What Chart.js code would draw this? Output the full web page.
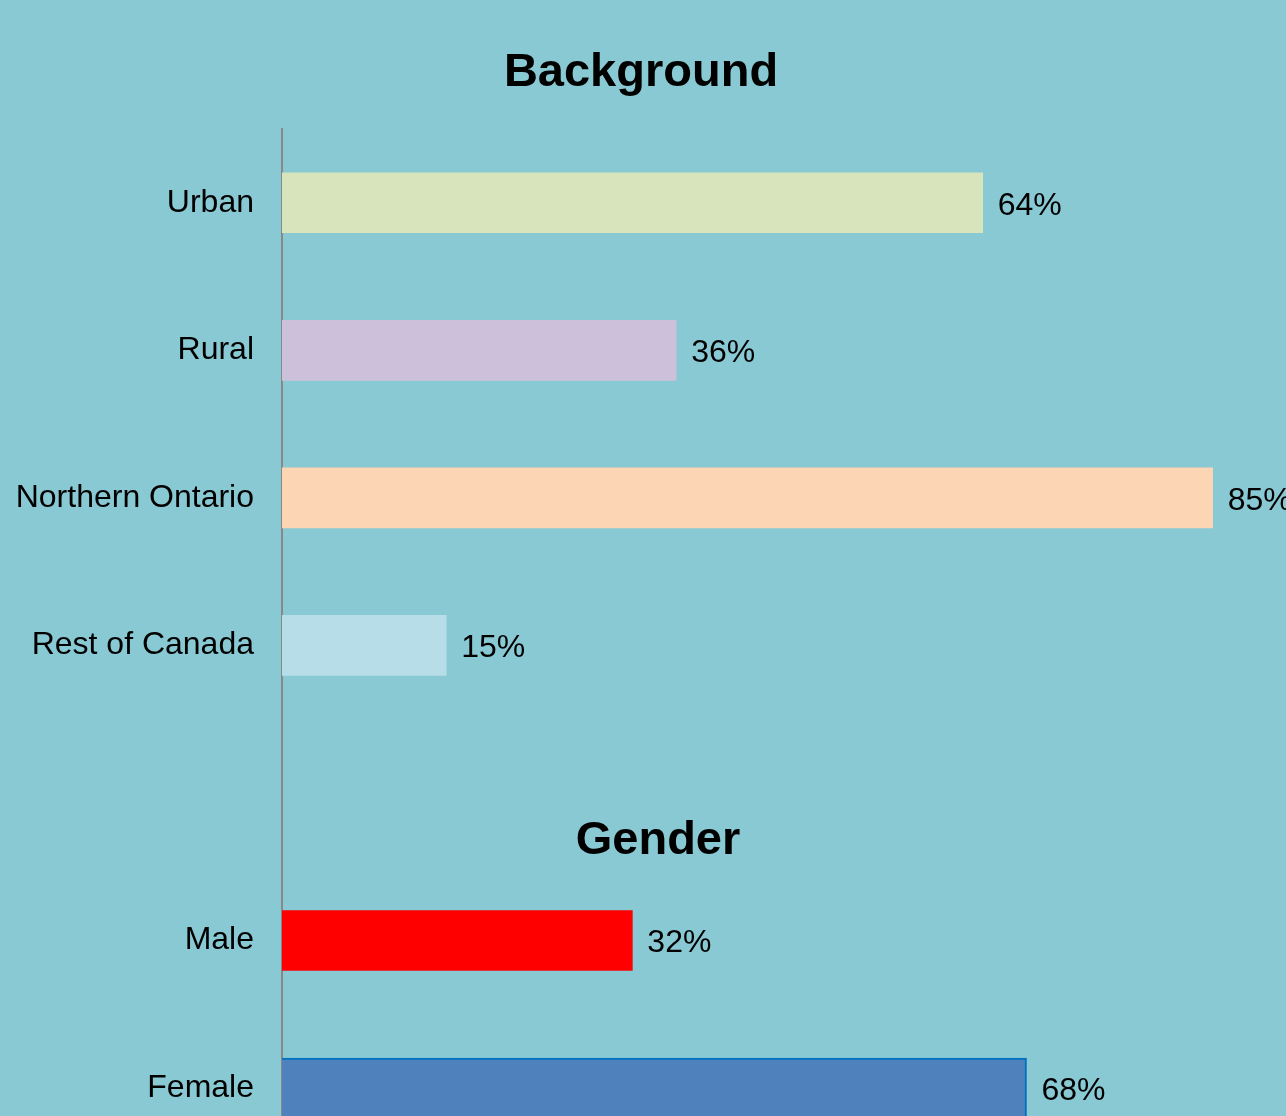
<!DOCTYPE html>
<html>
<head>
<meta charset="utf-8">
<script src="https://cdn.jsdelivr.net/npm/chart.js@4.4.1/dist/chart.umd.min.js"></script>
<style>
  html, body { margin: 0; padding: 0; background: #89C9D3; overflow: hidden; }
  #wrap { width: 1286px; height: 1209px; }
</style>
</head>
<body>
<div id="wrap"><canvas id="chart" width="1286" height="1209"></canvas></div>
<script>
// Data
const categories = ['Urban', 'Rural', 'Northern Ontario', 'Rest of Canada', '', 'Male', 'Female'];
const values = [64, 36, 85, 15, null, 32, 68];
const barColors = ['#D8E4BC', '#CCC0DA', '#FCD5B4', '#B7DEE8', 'rgba(0,0,0,0)', '#FF0000', '#4F81BD'];
const borderColors = ['#D8E4BC', '#CCC0DA', '#FCD5B4', '#B7DEE8', 'rgba(0,0,0,0)', '#FF0000', '#0070C0'];
const sectionTitles = ['Background', 'Gender'];

const FONT = '"Liberation Sans", Arial, sans-serif';

// Titles and value labels
const overlay = {
    id: 'overlay',
    afterDatasetsDraw(chart) {
        const c = chart.ctx;
        const y = chart.scales.y;
        const meta = chart.getDatasetMeta(0);
        c.save();
        c.fillStyle = '#000';
        c.textBaseline = 'middle';

        // value labels
        c.font = '32px ' + FONT;
        c.textAlign = 'left';
        meta.data.forEach((bar, i) => {
            if (values[i] == null) return;
            c.fillText(values[i] + '%', bar.x + 15, bar.y + 3);
        });

        // section titles
        c.font = 'bold 47px ' + FONT;
        c.textAlign = 'center';
        c.fillText(sectionTitles[0], 641, chart.chartArea.top - 56);
        c.fillText(sectionTitles[1], 658, y.getPixelForValue(4) + 48);
        c.restore();
    }
};

const ctx = document.getElementById('chart').getContext('2d');
const chart = new Chart(ctx, {
    type: 'bar',
    data: {
        labels: categories,
        datasets: [{
            data: values,
            backgroundColor: barColors,
            borderColor: borderColors,
            borderWidth: [0, 0, 0, 0, 0, 0, 2],
            borderSkipped: 'left',
            barThickness: 60
        }]
    },
    options: {
        indexAxis: 'y',
        responsive: false,
        devicePixelRatio: 1,
        animation: false,
        // canvas is taller than the window: the chart runs past the bottom edge
        layout: { padding: { top: 129, right: 0, bottom: 0, left: 0 } },
        plugins: {
            legend: { display: false },
            title: { display: false },
            tooltip: { enabled: false }
        },
        scales: {
            x: {
                display: false,
                min: 0,
                max: 91.7
            },
            y: {
                grid: { display: false, drawTicks: false },
                border: { display: true, color: '#888888', width: 2 },
                ticks: {
                    color: '#000',
                    padding: 28,
                    font: { family: FONT, size: 32 }
                },
                afterFit(scale) { scale.width = 282; }
            }
        }
    },
    plugins: [overlay]
});
</script>
</body>
</html>
